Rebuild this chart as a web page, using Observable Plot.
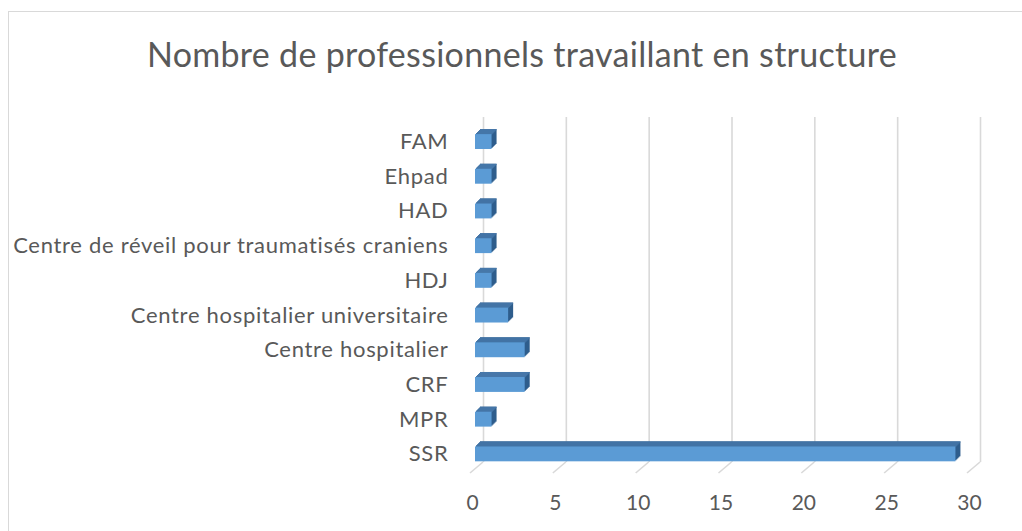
<!DOCTYPE html>
<html><head><meta charset="utf-8">
<script src="https://cdn.jsdelivr.net/npm/d3@7"></script>
<script src="https://cdn.jsdelivr.net/npm/@observablehq/plot@0.6"></script>
<style>
html,body{margin:0;padding:0;background:#fff;overflow:hidden;width:1022px;height:531px}
#wrap{position:relative;width:1022px;height:531px;overflow:hidden}
#border{position:absolute;left:8px;top:11px;width:1100px;height:600px;border:1px solid #d9d9d9;box-sizing:border-box}
#title{position:absolute;left:0;width:1044px;top:33px;text-align:center;font-family:Lato;font-size:34px;letter-spacing:0.3px;color:#595959;white-space:nowrap}
#chart{position:absolute;left:0;top:0}
#chart svg g[aria-label="y-axis tick label"] text{letter-spacing:0.7px}
</style></head><body>
<div id="wrap"><div id="border"></div><div id="chart"></div><div id="title">Nombre de professionnels travaillant en structure</div></div>
<script>
const categories = ["FAM","Ehpad","HAD","Centre de réveil pour traumatisés craniens","HDJ","Centre hospitalier universitaire","Centre hospitalier","CRF","MPR","SSR"];
const values = [1,1,1,1,1,2,3,3,1,29];
const xTicks = [0,5,10,15,20,25,30];
const data = categories.map((c,i)=>({category:c, value:values[i]}));

const depth = [1,2,3,4,5];
const pad = 0.57, r0 = 114.3, r1 = 481.1;
const step = (r1 - r0) / (categories.length - pad + 2 * pad);
const bw = step * (1 - pad);

const sideMarks = depth.map(k => Plot.barX(data, {x:"value", y:"category", fill:"#2e5d8c", dx:k, dy:-k}));
const topMarks = depth.map(k => Plot.barX(data, {x:"value", y:"category", fill:"#4778aa", dx:k, dy:-k, insetBottom: bw - 1.2}));

const floorLines = (index, scales, values, dimensions) => {
  const g = d3.create("svg:g");
  const yb = dimensions.height - dimensions.marginBottom;
  for (const t of xTicks) {
    g.append("line")
      .attr("x1", scales.x(t) + 8).attr("y1", yb)
      .attr("x2", scales.x(t) - 5).attr("y2", yb + 11)
      .attr("stroke", "#d9d9d9").attr("stroke-width", 1.6);
  }
  return g.node();
};

const chart = Plot.plot({
  width: 1022,
  height: 531,
  marginLeft: 475,
  marginRight: 50,
  marginTop: 117,
  marginBottom: 69,
  style: {background: "transparent", color: "#595959", fontFamily: "Lato"},
  x: {domain: [0, 30]},
  y: {domain: categories, range: [r0, r1], padding: pad, round: false},
  marks: [
    Plot.ruleX(xTicks, {x: d => d, dx: 8, stroke: "#d9d9d9", strokeWidth: 1.6}),
    floorLines,
    ...sideMarks,
    ...topMarks,
    Plot.barX(data, {x:"value", y:"category", fill:"#5b9bd5"}),
    Plot.axisX(xTicks, {tickSize: 0, tickPadding: 33, fontSize: 21, dx: -3, label: null}),
    Plot.axisY({tickSize: 0, tickPadding: 27, fontSize: 22, label: null})
  ]
});
document.getElementById("chart").appendChild(chart);
</script>
</body></html>
